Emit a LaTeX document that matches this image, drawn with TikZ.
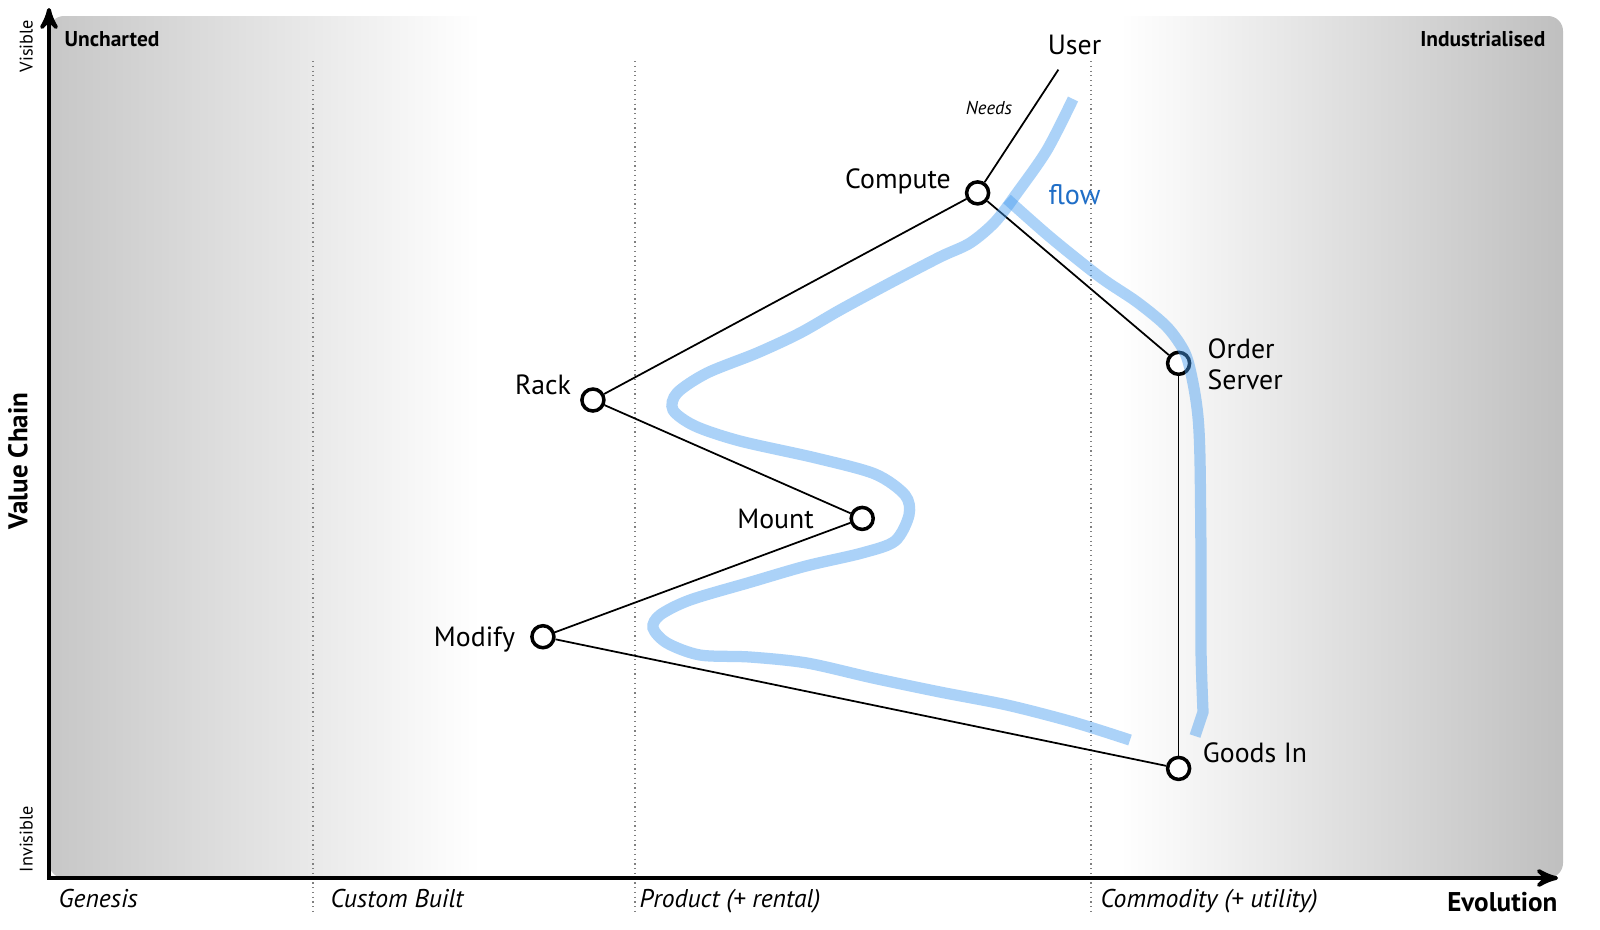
\documentclass[tikz,border=0pt]{standalone}
\usepackage{fontspec}
\setmainfont{PT Sans}
\usetikzlibrary{arrows}
\definecolor{flowblue}{rgb}{0.27,0.61,0.94}
\definecolor{flowtext}{rgb}{0.12,0.43,0.78}
\definecolor{leftgray}{rgb}{0.78,0.78,0.78}
\definecolor{rightgray}{rgb}{0.75,0.75,0.75}
\newcommand{\fsz}[1]{\fontsize{#1}{#1}\selectfont}
\tikzset{
	comp/.style={circle,draw=black,fill=white,line width=1pt,minimum size=0.22cm,inner sep=0pt},
	lbl/.style={font=\fsz{7.9pt},text height=5.6pt,text depth=0pt,inner sep=0pt},
	link/.style={line width=0.5pt},
	flowline/.style={line width=3.2pt,color=flowblue,opacity=0.45},
	stage/.style={font=\fsz{7.3pt}\itshape,text height=5.1pt,text depth=0pt,inner sep=0pt},
	stageline/.style={densely dotted,color=gray,line width=0.35pt},
	corner/.style={font=\fsz{6.1pt}\bfseries,text height=4.3pt,text depth=0pt,inner sep=0pt},
	side/.style={font=\fsz{5.2pt},rotate=90,text height=3.7pt,text depth=0pt,inner sep=0pt}
}
\begin{document}
\begin{tikzpicture}[line cap=butt,line join=miter,>=stealth',x=0.01cm,y=-0.01cm]
	\useasboundingbox (0,0) rectangle (1600,929);
	% background
	\begin{scope}
	\clip[rounded corners=0.15cm] (49,16) rectangle (1563,878);
	\fill[white] (49,16) rectangle (1563,878);
	\shade[left color=leftgray,right color=white] (49,16) rectangle (480,878);
	\shade[left color=white,right color=rightgray] (1120,16) rectangle (1563,878);
	\end{scope}
	\draw[stageline] (313,61) -- (313,913);
	\draw[stageline] (635,61) -- (635,913);
	\draw[stageline] (1091,61) -- (1091,913);
	\draw[<->,line width=1.1pt] (49,8) -- (49,878) -- (1558,878);
	% axis texts
	\node[corner,anchor=west] (uncharted) at (64,39) {Uncharted};
	\node[corner,anchor=east] (industrialised) at (1546,39) {Industrialised};
	\node[stage,anchor=west] (genesis) at (58,899) {Genesis};
	\node[stage,anchor=west] (custom) at (330,899) {Custom Built};
	\node[stage,anchor=west] (product) at (639,899) {Product (+ rental)};
	\node[stage,anchor=west] (commodity) at (1100,899) {Commodity (+ utility)};
	\node[lbl,font=\fsz{7.7pt}\bfseries,anchor=east] (evolution) at (1558,902) {Evolution};
	\node[side] (visible) at (26,46) {Visible};
	\node[side] (invisible) at (26,839) {Invisible};
	\node[side,font=\fsz{7.7pt}\bfseries,text height=5.4pt] (valuechain) at (18,461) {Value Chain};
	% components
	\node[lbl,inner sep=4pt] (user) at (1074.5,45) {User};
	\node[comp] (compute) at (977.6,192.9) {};
	\node[comp] (rack) at (592.9,400) {};
	\node[comp] (mount) at (862.2,518.4) {};
	\node[comp] (modify) at (542.9,636.7) {};
	\node[comp] (order) at (1178.6,363.3) {};
	\node[comp] (goods) at (1178.6,768.4) {};
	\draw[link] (user) -- (compute);
	\draw[link] (compute) -- (rack);
	\draw[link] (rack) -- (mount);
	\draw[link] (mount) -- (modify);
	\draw[link] (modify) -- (goods);
	\draw[link] (compute) -- (order);
	\draw[link] (order) -- (goods);
	\node[lbl,font=\fsz{5.3pt}\itshape,text height=3.8pt] (needs) at (989,108) {Needs};
	\node[lbl] (computelbl) at (898,178.6) {Compute};
	\node[lbl] (racklbl) at (543,385) {Rack};
	\node[lbl] (mountlbl) at (775.5,518.4) {Mount};
	\node[lbl] (modifylbl) at (474.5,636.7) {Modify};
	\node[lbl,font=\fontsize{7.9pt}{8.8pt}\selectfont,align=left,anchor=west,text height=,text depth=] (orderlbl) at (1207,364.3) {Order\\Server};
	\node[lbl] (goodslbl) at (1255,753) {Goods In};
	% flow
	\draw[flowline] plot[smooth] coordinates {(1073,99) (1047,150) (1017,193) (995,222) (970,243) (940,257) (890,283) (840,310) (800,333) (757,353) (707,373) (677,393) (673,410) (695,426) (740,441) (816,458) (875,474) (905,495) (909,515) (895,541) (862,553) (806,566) (751,582) (690,600) (660,615) (653,628) (667,643) (700,655) (750,657) (807,663) (873,678) (940,692) (1007,705) (1073,722) (1130,740)};
	\draw[flowline] plot[smooth] coordinates {(1007,199) (1050,237) (1100,277) (1137,302) (1167,327) (1185,353) (1193,383) (1198,417) (1200,460) (1201,560) (1201,650) (1203,712)} -- (1195,736);
	\node[lbl,font=\fsz{8pt},color=flowtext,text height=5.7pt] (flow) at (1074.5,194) {flow};
\end{tikzpicture}
\end{document}
